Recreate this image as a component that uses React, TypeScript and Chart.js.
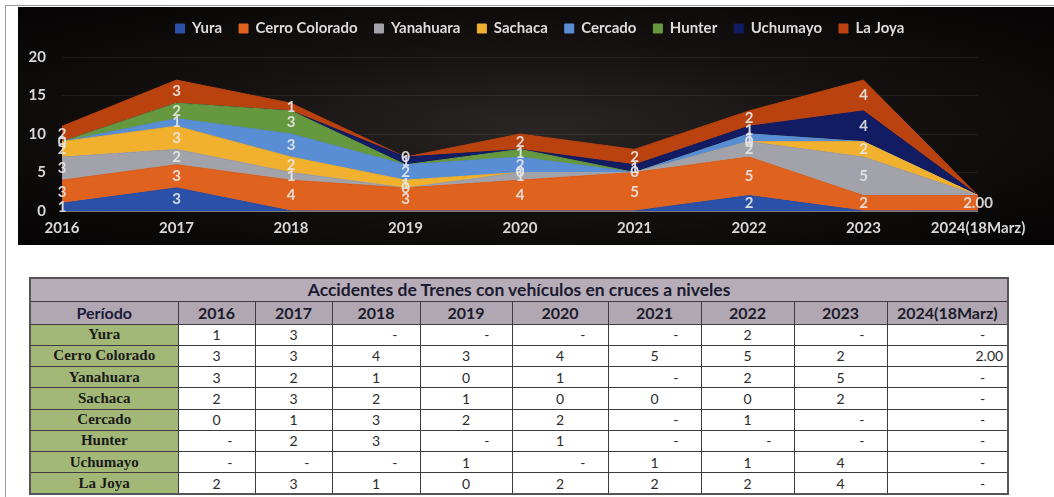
import React, { useEffect, useRef } from 'react';
import { Chart, registerables } from 'chart.js';

Chart.register(...registerables);

// ---------- data ----------
const periods = ['2016', '2017', '2018', '2019', '2020', '2021', '2022', '2023', '2024(18Marz)'];
const seriesNames = ['Yura', 'Cerro Colorado', 'Yanahuara', 'Sachaca', 'Cercado', 'Hunter', 'Uchumayo', 'La Joya'];
// null = "-" in the source table
const yura = [1, 3, null, null, null, null, 2, null, null];
const cerroColorado = [3, 3, 4, 3, 4, 5, 5, 2, 2];
const yanahuara = [3, 2, 1, 0, 1, null, 2, 5, null];
const sachaca = [2, 3, 2, 1, 0, 0, 0, 2, null];
const cercado = [0, 1, 3, 2, 2, null, 1, null, null];
const hunter = [null, 2, 3, null, 1, null, null, null, null];
const uchumayo = [null, null, null, 1, null, 1, 1, 4, null];
const laJoya = [2, 3, 1, 0, 2, 2, 2, 4, null];
const seriesValues: (number | null)[][] = [yura, cerroColorado, yanahuara, sachaca, cercado, hunter, uchumayo, laJoya];
const periodDecimals = [0, 0, 0, 0, 0, 0, 0, 0, 2];
const yTickValues = [0, 5, 10, 15, 20];
const tableTitle = 'Accidentes de Trenes con vehículos en cruces a niveles';
const periodHeader = 'Período';

// ---------- styles ----------
const seriesColors = ['#2a50a8', '#e0621f', '#a2a2aa', '#f1b12e', '#5a8ed4', '#66983f', '#111c62', '#b9420f'];
const colWidths = [148, 77, 77, 88, 92, 96, 93, 93, 93, 121];
const FONT = 'Lato, "Open Sans", sans-serif';
const LEGEND_SHIFT_X = 42;
const LEGEND_SHIFT_Y = -3;

const fmt = (v: number, i: number) => v.toFixed(periodDecimals[i]);

const bandLabels = {
  id: 'bandLabels',
  beforeInit(chart: any) {
    const lg = chart.legend;
    if (lg) {
      const orig = lg.fit;
      lg.fit = function () {
        orig.call(this);
        this.height = 50;
      };
    }
  },
  afterLayout(chart: any) {
    const lg = chart.legend;
    if (lg) {
      lg.left += LEGEND_SHIFT_X;
      lg.right += LEGEND_SHIFT_X;
      lg.top += LEGEND_SHIFT_Y;
      lg.bottom += LEGEND_SHIFT_Y;
    }
  },
  afterDatasetsDraw(chart: any) {
    const ctx = chart.ctx;
    const xs = chart.scales.x;
    const ys = chart.scales.y;
    const cum = periods.map(() => 0);
    ctx.save();
    ctx.font = `bold 15px ${FONT}`;
    ctx.fillStyle = 'rgba(232,232,232,0.9)';
    ctx.textAlign = 'center';
    ctx.textBaseline = 'middle';
    seriesValues.forEach((vals) => {
      vals.forEach((v, i) => {
        const base = cum[i];
        const top = base + (v ?? 0);
        cum[i] = top;
        if (v === null) return;
        const px = xs.getPixelForValue(i);
        const py = (ys.getPixelForValue(base) + ys.getPixelForValue(top)) / 2;
        ctx.fillText(fmt(v, i), px, py);
      });
    });
    ctx.restore();
  },
};

function AreaChart() {
  const ref = useRef<HTMLCanvasElement>(null);
  useEffect(() => {
    if (!ref.current) return;
    const chart = new Chart(ref.current, {
      type: 'line',
      data: {
        labels: periods,
        datasets: seriesNames.map((name, di) => ({
          label: name,
          data: seriesValues[di].map((v) => v ?? 0),
          backgroundColor: seriesColors[di],
          borderColor: seriesColors[di],
          borderWidth: 1,
          pointRadius: 0,
          pointHoverRadius: 0,
          tension: 0,
          fill: di === 0 ? 'origin' : '-1',
        })),
      },
      options: {
        responsive: false,
        animation: false,
        layout: { padding: { top: 0, right: 76, bottom: 0, left: 0 } },
        plugins: {
          legend: {
            position: 'top',
            labels: {
              boxWidth: 9,
              boxHeight: 9,
              padding: 17,
              color: '#dcdcdc',
              font: { family: FONT, size: 15, weight: 'bold' },
            },
          },
          tooltip: { enabled: false },
        },
        scales: {
          x: {
            grid: { display: false, drawTicks: false, tickLength: 0 },
            border: { display: false },
            ticks: {
              color: '#d8d8d8',
              font: { family: FONT, size: 15, weight: 'bold' },
              padding: 8,
              maxRotation: 0,
              autoSkip: false,
            },
            afterFit: (s: any) => {
              s.height = 34;
            },
          },
          y: {
            stacked: true,
            min: 0,
            max: 20,
            afterBuildTicks: (s: any) => {
              s.ticks = yTickValues.map((v) => ({ value: v }));
            },
            grid: {
              drawTicks: false,
              tickLength: 0,
              color: (c: any) => (c.tick && c.tick.value === 0 ? 'rgba(210,210,210,0.55)' : 'rgba(255,255,255,0.07)'),
            },
            border: { display: false },
            ticks: {
              color: '#d8d8d8',
              font: { family: FONT, size: 15, weight: 'bold' },
              padding: 16,
            },
            afterFit: (s: any) => {
              s.width = 44;
            },
          },
        },
      },
      plugins: [bandLabels],
    } as any);
    return () => chart.destroy();
  }, []);
  return <canvas ref={ref} width={1036} height={238} style={{ display: 'block' }} />;
}

const border = '1px solid #3c3c3c';
const numFont = `14px ${FONT}`;

function DataTable() {
  const cellBase: React.CSSProperties = { border, padding: 0, lineHeight: 1, overflow: 'hidden', whiteSpace: 'nowrap' };
  return (
    <table
      style={{
        position: 'absolute',
        left: 29,
        top: 277,
        width: colWidths.reduce((a, b) => a + b, 0),
        borderCollapse: 'collapse',
        tableLayout: 'fixed',
        border: '2px solid #555',
      }}
    >
      <colgroup>
        {colWidths.map((w, i) => (
          <col key={i} style={{ width: w }} />
        ))}
      </colgroup>
      <tbody>
        <tr style={{ height: 23 }}>
          <td
            colSpan={10}
            style={{ ...cellBase, background: '#b7adb8', textAlign: 'center', font: `bold 17.5px ${FONT}`, color: '#1b1b30' }}
          >
            {tableTitle}
          </td>
        </tr>
        <tr style={{ height: 23 }}>
          <td style={{ ...cellBase, background: '#b1a7b2', textAlign: 'center', font: `bold 16px ${FONT}`, color: '#1b1b3a' }}>
            {periodHeader}
          </td>
          {periods.map((p) => (
            <td key={p} style={{ ...cellBase, background: '#b1a7b2', textAlign: 'center', font: `bold 16px ${FONT}`, color: '#1b1b2a' }}>
              {p}
            </td>
          ))}
        </tr>
        {seriesNames.map((name, ri) => (
          <tr key={name} style={{ height: 21.25 }}>
            <td
              style={{
                ...cellBase,
                background: '#a3b877',
                textAlign: 'center',
                font: 'bold 15px "Liberation Serif", "DejaVu Serif", serif',
                color: '#1a1a1a',
              }}
            >
              {name}
            </td>
            {seriesValues[ri].map((v, ci) => {
              const isDash = v === null;
              const isDec = !isDash && periodDecimals[ci] > 0;
              return (
                <td
                  key={ci}
                  style={{
                    ...cellBase,
                    background: '#ffffff',
                    font: numFont,
                    color: '#2a2a2a',
                    textAlign: isDash || isDec ? 'right' : 'center',
                    paddingRight: isDash ? 22 : isDec ? 4 : 0,
                  }}
                >
                  {isDash ? '-' : fmt(v as number, ci)}
                </td>
              );
            })}
          </tr>
        ))}
      </tbody>
    </table>
  );
}

export default function App() {
  return (
    <div
      style={{
        position: 'fixed',
        left: 0,
        top: 0,
        width: 1054,
        height: 497,
        background: '#ffffff',
        overflow: 'hidden',
      }}
    >
      <div
        style={{
          position: 'absolute',
          left: 5,
          top: 5,
          width: 1049,
          height: 492,
          borderLeft: '1px solid #9a9a9a',
          borderTop: '1px solid #9a9a9a',
          boxSizing: 'border-box',
        }}
      />
      <div
        style={{
          position: 'absolute',
          left: 18,
          top: 7,
          width: 1036,
          height: 238,
          background: 'radial-gradient(ellipse at 50% 50%, #2a2626 0%, #161212 45%, #050303 100%)',
        }}
      >
        <AreaChart />
      </div>
      <DataTable />
    </div>
  );
}
